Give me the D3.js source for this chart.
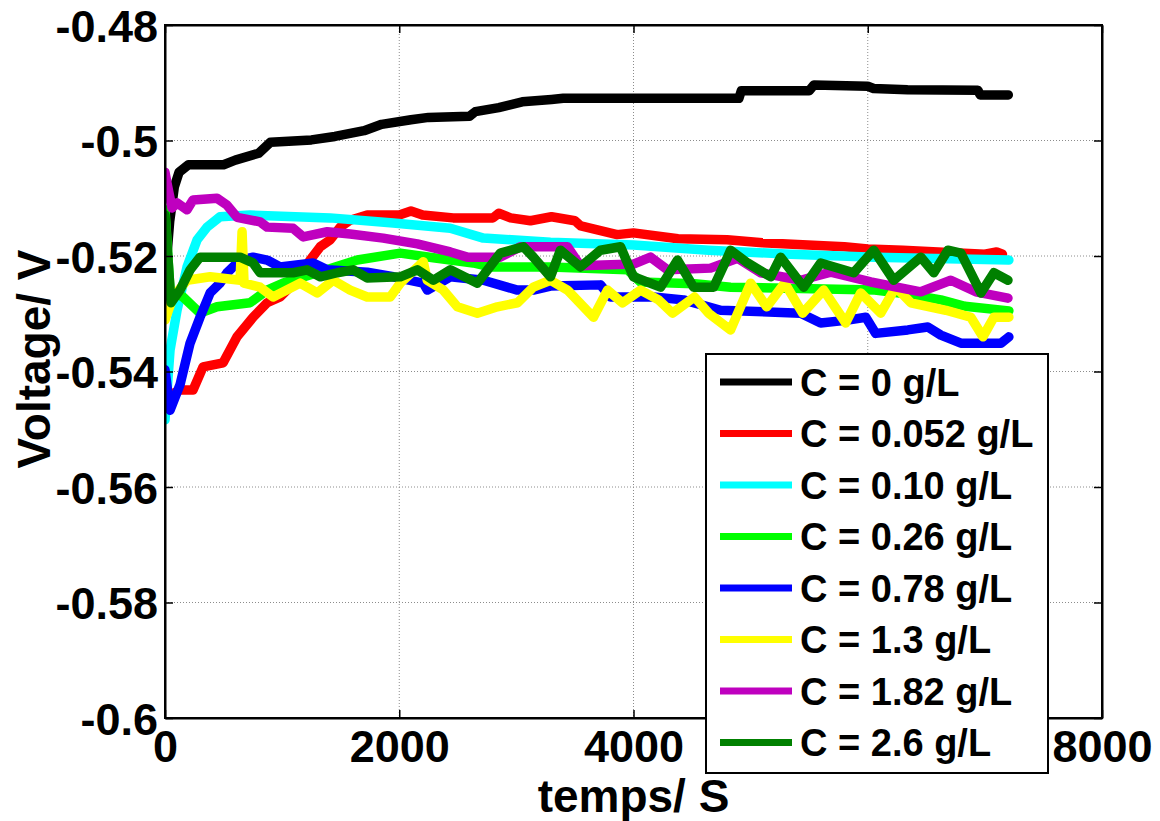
<!DOCTYPE html>
<html>
<head>
<meta charset="utf-8">
<script src="https://cdn.jsdelivr.net/npm/d3@7/dist/d3.min.js"></script>
<style>
body { margin: 0; background: #fff; }
text { font-family: "Liberation Sans", Arial, sans-serif; font-weight: bold; fill: #000; }
</style>
</head>
<body>
<svg width="1160" height="821"></svg>
<script>
// series: [time (s), voltage (V)]
var c0 = [[0,-0.524],[40,-0.514],[80,-0.508],[120,-0.5055],[200,-0.5042],[500,-0.5042],[600,-0.5034],[800,-0.5022],[900,-0.5003],[1250,-0.4999],[1450,-0.4993],[1700,-0.4983],[1850,-0.4972],[2100,-0.4964],[2250,-0.4960],[2600,-0.4958],[2650,-0.4950],[2850,-0.4943],[3050,-0.4933],[3300,-0.4929],[3400,-0.4927],[4900,-0.4927],[4920,-0.4914],[5500,-0.4914],[5540,-0.4904],[6000,-0.4906],[6050,-0.4910],[6340,-0.4912],[6940,-0.4913],[6960,-0.4921],[7200,-0.4921]];
var c0052 = [[0,-0.5445],[128,-0.5432],[240,-0.5432],[325,-0.5392],[496,-0.5385],[615,-0.5340],[752,-0.5306],[872,-0.5281],[983,-0.5271],[1154,-0.5236],[1239,-0.5207],[1325,-0.5184],[1410,-0.5172],[1496,-0.5150],[1581,-0.5138],[1726,-0.5129],[2000,-0.5129],[2100,-0.5122],[2200,-0.5129],[2460,-0.5134],[2800,-0.5134],[2850,-0.5126],[2950,-0.5134],[3120,-0.5139],[3300,-0.5132],[3500,-0.5139],[3550,-0.5148],[3860,-0.5163],[4000,-0.5160],[4380,-0.5170],[4800,-0.5172],[5100,-0.5177],[5400,-0.5180],[5800,-0.5184],[6000,-0.5188],[6300,-0.5190],[6600,-0.5193],[7000,-0.5197],[7100,-0.5193],[7150,-0.5197]];
var c010 = [[0,-0.5484],[43,-0.5363],[103,-0.5294],[188,-0.5219],[274,-0.5172],[359,-0.5150],[470,-0.5132],[726,-0.5129],[1410,-0.5134],[1949,-0.5143],[2436,-0.5152],[2718,-0.5169],[3291,-0.5176],[4000,-0.5181],[4641,-0.5190],[5342,-0.5197],[6060,-0.5202],[7205,-0.5207]];
var c026 = [[0,-0.512],[43,-0.5259],[154,-0.5271],[299,-0.5299],[444,-0.5288],[726,-0.5281],[872,-0.5259],[1009,-0.5247],[1299,-0.5229],[1641,-0.5207],[2009,-0.5195],[2291,-0.5203],[2632,-0.5212],[2778,-0.5219],[3291,-0.5219],[3949,-0.5224],[4060,-0.5245],[4521,-0.5248],[4829,-0.5254],[6060,-0.5259],[6342,-0.5266],[6624,-0.5276],[6829,-0.5287],[7205,-0.5295]];
var c078 = [[0,-0.5397],[43,-0.5467],[128,-0.5423],[214,-0.5351],[299,-0.5306],[385,-0.5264],[470,-0.5247],[530,-0.5229],[641,-0.5207],[752,-0.5202],[872,-0.5207],[983,-0.5219],[1265,-0.5212],[1385,-0.5224],[1726,-0.5228],[1949,-0.5236],[2205,-0.5247],[2240,-0.5259],[2436,-0.5236],[2718,-0.5242],[3009,-0.5259],[3145,-0.5259],[3291,-0.5252],[3718,-0.5250],[3803,-0.5271],[4171,-0.5271],[4427,-0.5276],[4744,-0.5294],[5427,-0.5299],[5598,-0.5316],[5829,-0.5311],[5983,-0.5306],[6068,-0.5334],[6342,-0.5328],[6513,-0.5323],[6624,-0.5337],[6795,-0.5351],[7137,-0.5351],[7205,-0.5340]];
var c13 = [[0,-0.5311],[68,-0.5271],[188,-0.5242],[385,-0.5236],[641,-0.5242],[658,-0.5158],[675,-0.5247],[812,-0.5254],[923,-0.5271],[1154,-0.5247],[1299,-0.5264],[1436,-0.5242],[1581,-0.5259],[1726,-0.5271],[1923,-0.5271],[2009,-0.5247],[2205,-0.5210],[2239,-0.5242],[2376,-0.5259],[2496,-0.5288],[2667,-0.5299],[2838,-0.5288],[3009,-0.5281],[3145,-0.5254],[3291,-0.5242],[3436,-0.5259],[3658,-0.5306],[3778,-0.5259],[3906,-0.5281],[4060,-0.5259],[4214,-0.5276],[4333,-0.5299],[4521,-0.5271],[4641,-0.5299],[4829,-0.5328],[5000,-0.5247],[5137,-0.5288],[5291,-0.5247],[5444,-0.5299],[5624,-0.5259],[5812,-0.5316],[5940,-0.5264],[6111,-0.5299],[6239,-0.5254],[6368,-0.5281],[6667,-0.5294],[6880,-0.5306],[6983,-0.5340],[7077,-0.5306],[7205,-0.5306]];
var c182 = [[0,-0.5055],[20,-0.5077],[60,-0.5117],[103,-0.5108],[188,-0.5120],[239,-0.5103],[444,-0.5100],[530,-0.5112],[615,-0.5133],[812,-0.5141],[872,-0.5150],[1094,-0.5152],[1180,-0.5167],[1385,-0.5158],[1581,-0.5162],[1863,-0.5169],[2154,-0.5179],[2436,-0.5193],[2581,-0.5202],[2863,-0.5202],[3034,-0.5184],[3436,-0.5184],[3547,-0.5217],[4000,-0.5214],[4145,-0.5202],[4291,-0.5224],[4658,-0.5221],[4889,-0.5204],[5085,-0.5229],[5427,-0.5242],[5684,-0.5228],[6026,-0.5245],[6453,-0.5262],[6709,-0.5242],[6923,-0.5262],[7197,-0.5273]];
var c26 = [[0,-0.5129],[51,-0.5281],[128,-0.5259],[214,-0.5224],[299,-0.5202],[641,-0.5202],[752,-0.5212],[812,-0.5229],[1094,-0.5229],[1214,-0.5224],[1325,-0.5236],[1470,-0.5229],[1607,-0.5224],[1726,-0.5238],[2009,-0.5236],[2154,-0.5224],[2291,-0.5242],[2436,-0.5224],[2667,-0.5247],[2863,-0.5195],[3060,-0.5184],[3145,-0.5202],[3291,-0.5236],[3376,-0.5190],[3547,-0.5219],[3718,-0.5190],[3889,-0.5184],[4000,-0.5236],[4231,-0.5254],[4376,-0.5207],[4513,-0.5254],[4684,-0.5254],[4803,-0.5202],[4829,-0.5190],[4974,-0.5212],[5171,-0.5236],[5256,-0.5202],[5453,-0.5254],[5598,-0.5212],[5880,-0.5229],[6051,-0.5190],[6222,-0.5242],[6453,-0.5202],[6564,-0.5229],[6684,-0.5190],[6795,-0.5195],[6966,-0.5264],[7077,-0.5229],[7197,-0.5242]];

var labels = ["C = 0 g/L", "C = 0.052 g/L", "C = 0.10 g/L", "C = 0.26 g/L", "C = 0.78 g/L", "C = 1.3 g/L", "C = 1.82 g/L", "C = 2.6 g/L"];
var colors = ["#000000", "#ff0000", "#00ffff", "#00ff00", "#0000ff", "#ffff00", "#bf00bf", "#008000"];
var allSeries = [c0, c0052, c010, c026, c078, c13, c182, c26];
var xTicks = [0, 2000, 4000, 6000, 8000];
var yTicks = [-0.6, -0.58, -0.56, -0.54, -0.52, -0.5, -0.48];

var pl = 165, pr = 1102, pt = 25, pb = 718;
var svg = d3.select("svg");

var x = d3.scaleLinear().domain([0, 8000]).range([pl, pr]);
var y = d3.scaleLinear().domain([-0.6, -0.48]).range([pb, pt]);

// grid
var grid = svg.append("g");
grid.selectAll(".gx").data(xTicks.slice(1, -1)).enter().append("line")
    .attr("x1", d => x(d)).attr("x2", d => x(d)).attr("y1", pt).attr("y2", pb)
    .attr("stroke", "#8c8c8c").attr("stroke-width", 1).attr("stroke-dasharray", "1,2");
grid.selectAll(".gy").data(yTicks.slice(1, -1)).enter().append("line")
    .attr("x1", pl).attr("x2", pr).attr("y1", d => y(d)).attr("y2", d => y(d))
    .attr("stroke", "#8c8c8c").attr("stroke-width", 1).attr("stroke-dasharray", "1,2");

// lines
svg.append("clipPath").attr("id", "clip").append("rect")
    .attr("x", pl).attr("y", pt).attr("width", pr - pl).attr("height", pb - pt);

var line = d3.line().x(d => x(d[0])).y(d => y(d[1]));
svg.append("g").attr("clip-path", "url(#clip)")
    .selectAll("path").data(allSeries).enter().append("path")
    .attr("d", line)
    .attr("fill", "none")
    .attr("stroke", (d, i) => colors[i])
    .attr("stroke-width", 9.5)
    .attr("stroke-linejoin", "round")
    .attr("stroke-linecap", "round");

// axes
var fs = "45px";
var ax = svg.append("g").attr("transform", "translate(0," + pb + ")")
    .call(d3.axisBottom(x).tickValues(xTicks).tickSizeInner(-8).tickSizeOuter(0).tickPadding(12).tickFormat(d3.format("d")));
ax.selectAll("text").style("font-size", fs);
var ay = svg.append("g").attr("transform", "translate(" + pl + ",0)")
    .call(d3.axisLeft(y).tickValues(yTicks).tickSizeInner(-8).tickSizeOuter(0).tickPadding(7).tickFormat(d => String(+d.toFixed(2))));
ay.selectAll("text").style("font-size", fs).attr("dy", "0.36em");
svg.append("g").attr("transform", "translate(0," + pt + ")")
    .call(d3.axisTop(x).tickValues(xTicks).tickSizeInner(-8).tickSizeOuter(0).tickFormat(""));
svg.append("g").attr("transform", "translate(" + pr + ",0)")
    .call(d3.axisRight(y).tickValues(yTicks).tickSizeInner(-8).tickSizeOuter(0).tickFormat(""));
svg.selectAll(".domain").attr("stroke", "#000").attr("stroke-width", 2);
svg.selectAll(".tick line").attr("stroke", "#000").attr("stroke-width", 1.5);

svg.append("rect").attr("x", pl).attr("y", pt).attr("width", pr - pl).attr("height", pb - pt)
    .attr("fill", "none").attr("stroke", "#000").attr("stroke-width", 2);

// axis titles
svg.append("text").attr("x", (pl + pr) / 2).attr("y", 812)
    .attr("text-anchor", "middle").style("font-size", "46px").text("temps/ S");
svg.append("text").attr("transform", "translate(50,359) rotate(-90)")
    .attr("text-anchor", "middle").style("font-size", "46px").text("Voltage/ V");

// legend (drawn over the plot, hides the 6000 label like the original)
var lg = svg.append("g");
lg.append("rect").attr("x", 706).attr("y", 354).attr("width", 342).attr("height", 419)
    .attr("fill", "#fff").attr("stroke", "#000").attr("stroke-width", 2);
var rows = lg.selectAll(".row").data(labels).enter().append("g")
    .attr("transform", (d, i) => "translate(0," + (382 + i * 51.5) + ")");
rows.append("line").attr("x1", 720).attr("x2", 792).attr("y1", 0).attr("y2", 0)
    .attr("stroke", (d, i) => colors[i]).attr("stroke-width", 7);
rows.append("text").attr("x", 800).attr("dy", "0.36em").style("font-size", "38px").text(d => d);
</script>
</body>
</html>
